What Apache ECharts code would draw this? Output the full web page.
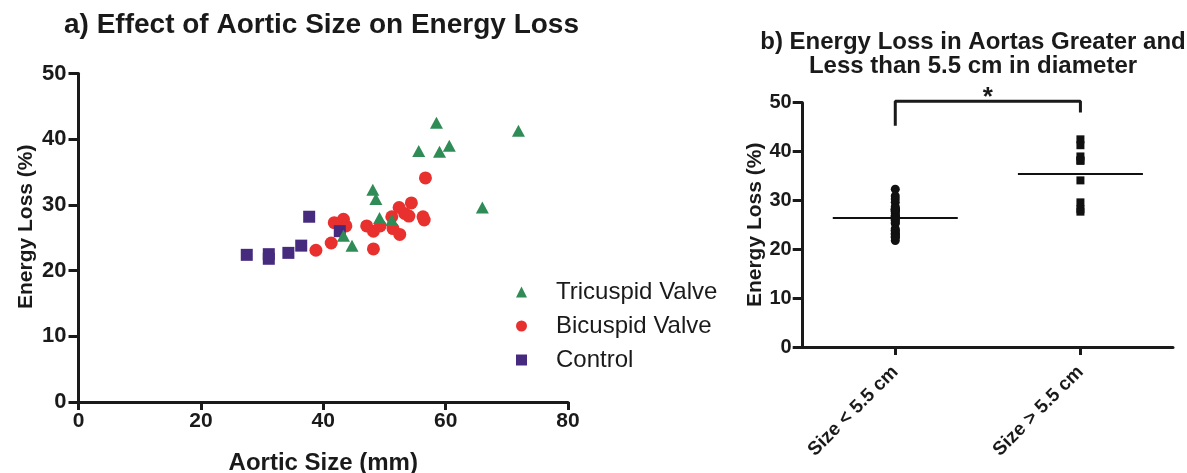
<!DOCTYPE html>
<html>
<head>
<meta charset="utf-8">
<script src="https://cdn.jsdelivr.net/npm/echarts@6/dist/echarts.min.js"></script>
<style>
  html, body { margin: 0; padding: 0; background: #fff; }
  #main { width: 1187px; height: 473px; }
</style>
</head>
<body>
<div id="main"></div>
<script>
// a) aortic size (mm) vs energy loss (%)
var triX = [58.5, 55.6, 59.0, 60.6, 66.0, 48.1, 48.6, 49.2, 51.2, 43.3, 44.7, 71.9];
var triY = [42.5, 38.2, 38.1, 39.0, 29.6, 32.3, 30.9, 28.0, 27.7, 25.3, 23.8, 41.3];
var bicX = [56.7, 38.8, 41.3, 41.8, 43.3, 43.7, 47.1, 48.2, 48.2, 49.3, 51.2, 51.4, 52.5, 52.4, 53.3, 54.4, 54.0, 56.3, 56.5];
var bicY = [34.1, 23.1, 24.2, 27.3, 27.8, 26.8, 26.8, 26.0, 23.3, 26.8, 28.2, 26.4, 25.5, 29.6, 28.7, 30.3, 28.3, 28.2, 27.7];
var ctlX = [37.7, 42.7, 36.4, 34.3, 31.1, 31.1, 27.5];
var ctlY = [28.2, 26.0, 23.8, 22.7, 22.5, 21.8, 22.4];

// b) energy loss grouped by diameter
var groups = ['Size < 5.5 cm', 'Size > 5.5 cm'];
var smallLoss = [32.3, 30.9, 28.0, 27.7, 25.3, 23.8,
  23.1, 24.2, 27.3, 27.8, 26.8, 26.8, 26.0, 23.3, 26.8, 28.2, 26.4, 25.5, 29.6, 28.7, 30.3, 28.3,
  28.2, 26.0, 23.8, 22.7, 22.5, 21.8, 22.4];
var largeLoss = [42.5, 41.3, 39.0, 38.2, 38.1, 34.1, 29.6, 28.2, 27.7];
var groupMeans = [26.4, 35.4];
var bracketY = [45.3, 50.3, 50.3, 48.0];

function pairs(xs, ys) {
  return xs.map(function (x, i) { return [x, ys[i]]; });
}

var font = 'Liberation Sans, Arial, sans-serif';
var black = '#1a1a1a';

var chart = echarts.init(document.getElementById('main'));

var option = {
  animation: false,
  textStyle: { fontFamily: font },
  title: [
    {
      text: 'a) Effect of Aortic Size on Energy Loss',
      left: 59, top: 6,
      textStyle: { fontSize: 28, fontWeight: 'bold', color: black, fontFamily: font }
    },
    {
      text: 'b) Energy Loss in Aortas Greater and\nLess than 5.5 cm in diameter',
      left: 968, top: 25, textAlign: 'center',
      textStyle: { fontSize: 24, fontWeight: 'bold', color: black, lineHeight: 24, fontFamily: font }
    }
  ],
  legend: {
    orient: 'vertical',
    left: 511, top: 275,
    itemWidth: 11, itemHeight: 11, itemGap: 10,
    data: ['Tricuspid Valve', 'Bicuspid Valve', 'Control'],
    textStyle: { fontSize: 24, color: black, padding: [0, 0, 0, 24], fontFamily: font }
  },
  grid: [
    { left: 78.5, right: 619, top: 73.5, bottom: 71, outerBoundsMode: 'none', containLabel: false },
    { left: 802.7, right: 14, top: 102.7, bottom: 126, outerBoundsMode: 'none', containLabel: false }
  ],
  xAxis: [
    {
      gridIndex: 0, type: 'value', min: 0, max: 80, interval: 20,
      name: 'Aortic Size (mm)', nameLocation: 'middle', nameGap: 49,
      nameTextStyle: { fontSize: 24, fontWeight: 'bold', color: black },
      axisLine: { lineStyle: { color: black, width: 3, cap: 'round' } },
      axisTick: { show: true, length: 8, lineStyle: { color: black, width: 3 } },
      axisLabel: { fontSize: 21, fontWeight: 'bold', color: black, margin: 9 },
      splitLine: { show: false }
    },
    {
      gridIndex: 1, type: 'category', data: groups, boundaryGap: true,
      axisLine: { lineStyle: { color: black, width: 3 } },
      axisTick: { show: true, alignWithLabel: true, length: 8, lineStyle: { color: black, width: 3 } },
      axisLabel: { fontSize: 19, fontWeight: 'bold', color: black, rotate: 45, margin: 22 },
      splitLine: { show: false }
    }
  ],
  yAxis: [
    {
      gridIndex: 0, type: 'value', min: 0, max: 50, interval: 10,
      name: 'Energy Loss (%)', nameLocation: 'middle', nameGap: 42,
      nameTextStyle: { fontSize: 21, fontWeight: 'bold', color: black, padding: [0, 0, 0, 22] },
      axisLine: { show: true, lineStyle: { color: black, width: 3 } },
      axisTick: { show: true, length: 10, lineStyle: { color: black, width: 3 } },
      axisLabel: { fontSize: 22, fontWeight: 'bold', color: black, margin: 12 },
      splitLine: { show: false }
    },
    {
      gridIndex: 1, type: 'value', min: 0, max: 50, interval: 10,
      name: 'Energy Loss (%)', nameLocation: 'middle', nameGap: 35,
      nameTextStyle: { fontSize: 21, fontWeight: 'bold', color: black },
      axisLine: { show: true, lineStyle: { color: black, width: 3 } },
      axisTick: { show: true, length: 10, lineStyle: { color: black, width: 3 } },
      axisLabel: { fontSize: 20, fontWeight: 'bold', color: black, margin: 11 },
      splitLine: { show: false }
    }
  ],
  series: [
    {
      name: 'Bicuspid Valve', type: 'scatter', xAxisIndex: 0, yAxisIndex: 0,
      symbol: 'circle', symbolSize: 13,
      itemStyle: { color: '#e8312f', opacity: 1 },
      data: pairs(bicX, bicY)
    },
    {
      name: 'Control', type: 'scatter', xAxisIndex: 0, yAxisIndex: 0,
      symbol: 'rect', symbolSize: 12,
      itemStyle: { color: '#462a7e', opacity: 1 },
      data: pairs(ctlX, ctlY)
    },
    {
      name: 'Tricuspid Valve', type: 'scatter', xAxisIndex: 0, yAxisIndex: 0,
      symbol: 'triangle', symbolSize: [13, 12],
      itemStyle: { color: '#2f8c57', opacity: 1 },
      data: pairs(triX, triY)
    },
    {
      type: 'scatter', xAxisIndex: 1, yAxisIndex: 1,
      symbol: 'circle', symbolSize: 9,
      itemStyle: { color: '#111', opacity: 1 },
      data: smallLoss.map(function (v) { return [0, v]; })
    },
    {
      type: 'scatter', xAxisIndex: 1, yAxisIndex: 1,
      symbol: 'rect', symbolSize: 8,
      itemStyle: { color: '#111', opacity: 1 },
      data: largeLoss.map(function (v) { return [1, v]; })
    },
    {
      // group mean bars
      type: 'scatter', xAxisIndex: 1, yAxisIndex: 1,
      symbol: 'rect', symbolSize: [125, 2], z: 5,
      itemStyle: { color: '#111', opacity: 1 },
      data: groupMeans.map(function (v, i) { return [i, v]; })
    },
    {
      // significance bracket
      type: 'line', xAxisIndex: 1, yAxisIndex: 1, clip: false,
      symbol: 'none',
      lineStyle: { color: black, width: 3 },
      data: [[0, bracketY[0]], [0, bracketY[1]], [1, bracketY[2]], [1, bracketY[3]]]
    }
  ]
};

chart.setOption(option);

// star above the bracket, halfway between the two groups
var p0 = chart.convertToPixel({ xAxisIndex: 1, yAxisIndex: 1 }, [0, bracketY[1]]);
var p1 = chart.convertToPixel({ xAxisIndex: 1, yAxisIndex: 1 }, [1, bracketY[1]]);
chart.setOption({
  graphic: [{
    type: 'text',
    x: (p0[0] + p1[0]) / 2, y: p0[1] - 3,
    style: {
      text: '*', fontSize: 26, fontWeight: 'bold', fill: black, fontFamily: font,
      align: 'center', verticalAlign: 'middle'
    }
  }]
});
</script>
</body>
</html>
